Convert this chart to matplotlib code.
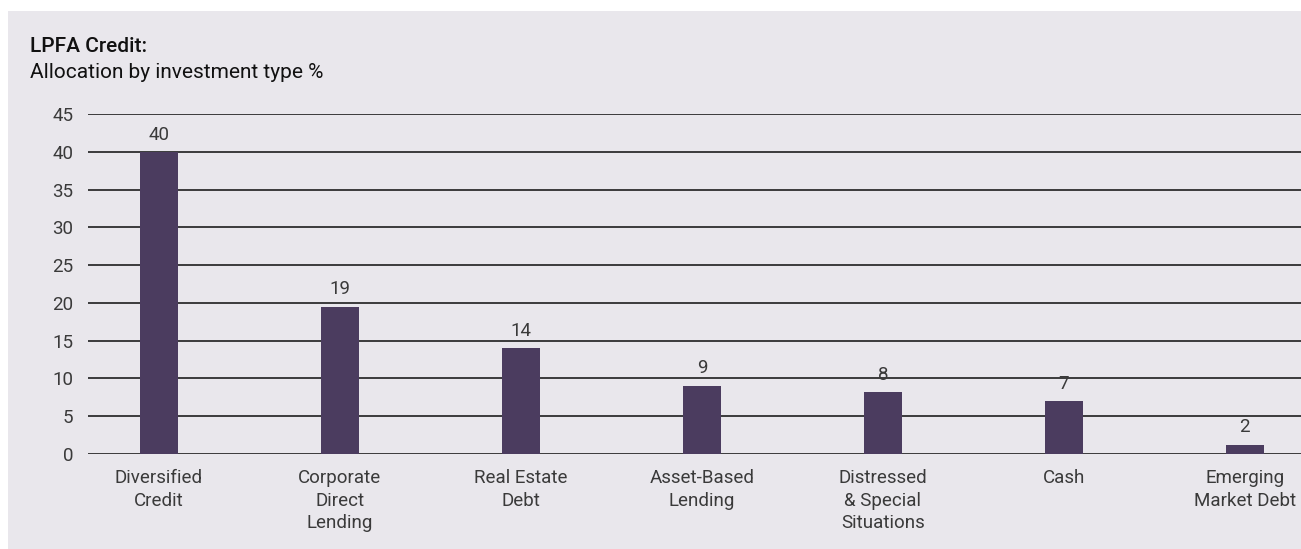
import matplotlib
matplotlib.use("Agg")
import matplotlib.pyplot as plt
from matplotlib.patches import Rectangle

categories = ["Diversified\nCredit", "Corporate\nDirect\nLending", "Real Estate\nDebt",
              "Asset-Based\nLending", "Distressed\n& Special\nSituations", "Cash",
              "Emerging\nMarket Debt"]
values = [40, 19.5, 14, 9, 8.2, 7, 1.2]
value_labels = ["40", "19", "14", "9", "8", "7", "2"]
yticks = [0, 5, 10, 15, 20, 25, 30, 35, 40, 45]

title = "LPFA Credit:"
subtitle = "Allocation by investment type %"

plt.rcParams['font.family'] = ['Roboto', 'DejaVu Sans']

W, H = 1301, 549
fig = plt.figure(figsize=(W / 100, H / 100), dpi=100)
fig.patch.set_facecolor("white")
bg = "#e9e7ec"
fig.add_artist(Rectangle((8 / W, 0), 1 - 8 / W, 1 - 11 / H, transform=fig.transFigure,
                         facecolor=bg, edgecolor="none", zorder=0))

ax = fig.add_axes([88 / W, (H - 453.7) / H, (W - 88) / W, (453.7 - 114.3) / H])
ax.set_facecolor("none")
x = list(range(len(categories)))
bar_color = "#4b3c5f"
ax.bar(x, values, width=0.21, color=bar_color, zorder=3)
ax.set_xlim(-0.392, 6.31)
ax.set_ylim(0, 45)
ax.set_yticks(yticks)
ax.set_yticklabels([str(t) for t in yticks])
for t in yticks:
    ax.axhline(t, color="#1e1e1e", lw=1.2, zorder=2)
for s in ax.spines.values():
    s.set_visible(False)
tick_fs = 13.5
tcol = "#3a3a3a"
ax.tick_params(axis="both", length=0, labelsize=tick_fs, labelcolor=tcol)
ax.tick_params(axis="y", pad=10.5)
ax.tick_params(axis="x", pad=11)
ax.set_xticks(x)
ax.set_xticklabels(categories, linespacing=1.33)

for xi, v, lab in zip(x, values, value_labels):
    ax.annotate(lab, (xi, v), xytext=(0, 6), textcoords="offset points",
                ha="center", va="bottom", fontsize=tick_fs, color=tcol, zorder=4)

fig.text(30 / W, 1 - 47 / H, title, fontsize=15, fontweight="medium",
         color="#111111", va="center", ha="left")
fig.text(30 / W, 1 - 72 / H, subtitle, fontsize=15, color="#111111",
         va="center", ha="left")

fig.savefig("out.png", dpi=100, facecolor=fig.get_facecolor())
